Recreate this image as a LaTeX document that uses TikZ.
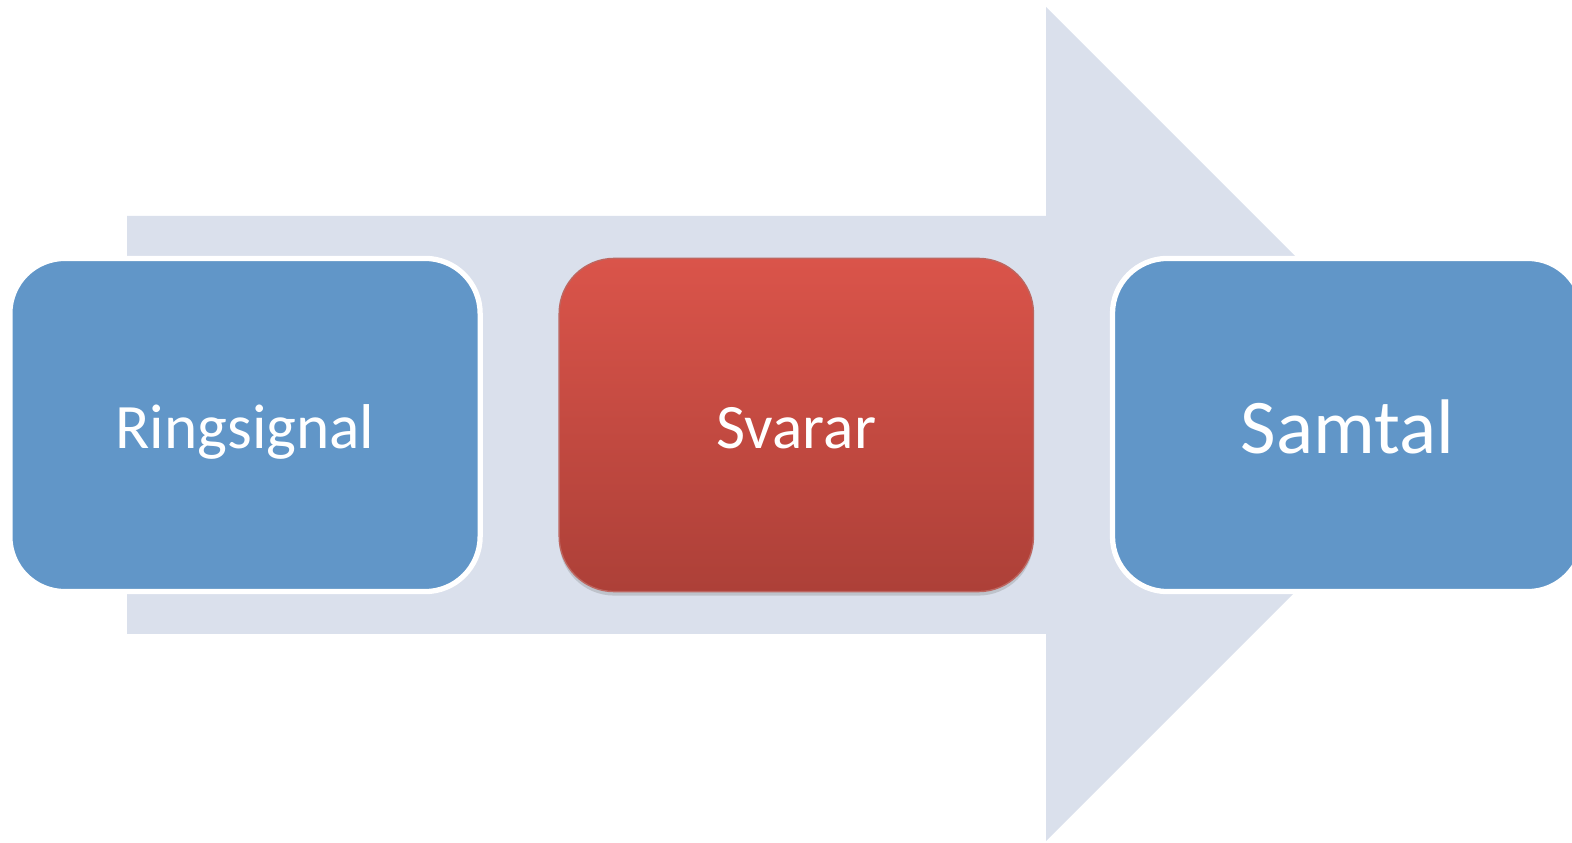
\documentclass[tikz,border=0pt]{standalone}
\usepackage{fontspec}
\setmainfont{Carlito}
\usetikzlibrary{positioning,shadows}

\definecolor{pilgra}{HTML}{DAE0EC}
\definecolor{stegbla}{HTML}{6196C8}
\definecolor{svartop}{HTML}{DA544A}
\definecolor{svarbot}{HTML}{AD4038}

\tikzset{
  steg/.style={rectangle, rounded corners=0.55cm, minimum width=4.70cm,
    minimum height=3.33cm, outer sep=0pt, text=white,
    font=\fontsize{18}{20}\selectfont, text height=0.6cm, text depth=0.14cm},
  blasteg/.style={steg, fill=stegbla, draw=white, line width=1.5pt},
  rodsteg/.style={steg, minimum width=4.74cm, top color=svartop, bottom color=svarbot,
    draw=svarbot!80!white, line width=0.4pt,
    drop shadow={shadow xshift=0pt, shadow yshift=-0.04cm, opacity=0.3}}
}

\begin{document}
\begin{tikzpicture}[x=0.01cm, y=-0.01cm]
  % Canvas
  \useasboundingbox (0,0) rectangle (1572,843);
  \clip (0,0) rectangle (1572,843);

  % Arrow
  \fill[pilgra] (127,216) -- (1046,216) -- (1046,7) -- (1463,424)
    -- (1046,841) -- (1046,634) -- (127,634) -- cycle;

  % Steps
  \node[blasteg] (ring) at (245,425) {Ringsignal};
  \node[rodsteg, right=0.79cm of ring] (svar) {Svarar};
  \node[blasteg, right=0.79cm of svar, font=\fontsize{22}{24}\selectfont,
    text height=0.7cm] (samtal) {Samtal};
\end{tikzpicture}
\end{document}
